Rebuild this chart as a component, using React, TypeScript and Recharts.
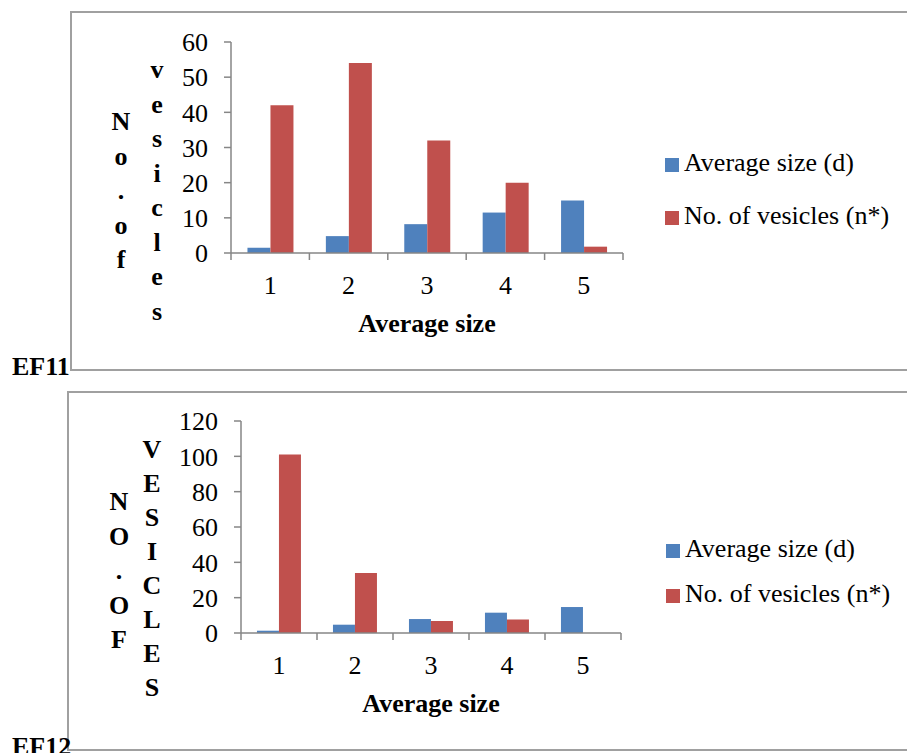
import React from "react";
import { BarChart, Bar, XAxis, YAxis, Legend } from "recharts";

// size classes on the x axis
const categories = ["1", "2", "3", "4", "5"];

// EF11
const ef11AvgSize = [1.5, 4.8, 8.2, 11.5, 14.9];
const ef11Vesicles = [42, 54, 32, 20, 1.8];
const ef11Ticks = [0, 10, 20, 30, 40, 50, 60];

// EF12
const ef12AvgSize = [1.3, 4.7, 7.9, 11.5, 14.7];
const ef12Vesicles = [101, 34, 6.8, 7.7, 0];
const ef12Ticks = [0, 20, 40, 60, 80, 100, 120];

const FONT = "'Liberation Serif', 'Times New Roman', serif";
const BLUE = "#4F81BD";
const RED = "#C0504D";
const AXIS = "#868686";
const FRAME = "#a0a0a0";
const FS = 26;

const buildRows = (avg: number[], ves: number[]) =>
  categories.map((c, i) => ({ size: c, avg: avg[i], ves: ves[i] }));

// category labels plus Excel-style tick marks sitting on the category edges
function EdgeTick(props: any) {
  const { x, y, payload, index, band, count } = props;
  const axisY = y - 7 - 4;
  return (
    <g>
      <line x1={x - band / 2} x2={x - band / 2} y1={axisY} y2={axisY + 7} stroke={AXIS} strokeWidth={1.5} />
      {index === count - 1 && (
        <line x1={x + band / 2} x2={x + band / 2} y1={axisY} y2={axisY + 7} stroke={AXIS} strokeWidth={1.5} />
      )}
      <text x={x} y={axisY + 41} textAnchor="middle" fontFamily={FONT} fontSize={FS} fill="#000">
        {payload.value}
      </text>
    </g>
  );
}

function SwatchLegend({ payload, gap }: any) {
  const items = (payload || []).filter((p: any) => p.type !== "none");
  return (
    <svg width={250} height={30 + gap * items.length} style={{ display: "block" }}>
      {items.map((p: any, i: number) => (
        <g key={p.value}>
          <rect x={5} y={13 + i * gap} width={14} height={14} fill={p.color} />
          <text x={24} y={26 + i * gap} fontFamily={FONT} fontSize={FS} fill="#000">
            {p.value}
          </text>
        </g>
      ))}
    </svg>
  );
}

type PanelProps = {
  top: number;
  height: number;
  rows: any[];
  ticks: number[];
  margin: { top: number; right: number; bottom: number; left: number };
  legendPos: { left: number; top: number };
  legendGap: number;
  yTickMargin: number;
};

function Panel({ top, height, rows, ticks, margin, legendPos, legendGap, yTickMargin }: PanelProps) {
  const width = 907;
  const band = (width - margin.left - 60 - margin.right) / categories.length;
  return (
    <div style={{ position: "absolute", left: 0, top, width, height }}>
      <BarChart
        width={width}
        height={height}
        data={rows}
        margin={margin}
        barGap={0}
        barCategoryGap="21%"
      >
        <XAxis
          dataKey="size"
          height={30}
          axisLine={{ stroke: AXIS, strokeWidth: 1.5 }}
          tickLine={false}
          tickSize={7}
          tickMargin={4}
          interval={0}
          tick={(p: any) => <EdgeTick {...p} band={band} count={categories.length} />}
          label={{
            content: ({ viewBox }: any) => (
              <text
                x={viewBox.x + viewBox.width / 2}
                y={viewBox.y + 79}
                textAnchor="middle"
                fontFamily={FONT}
                fontSize={FS}
                fontWeight="bold"
                fill="#000"
              >
                Average size
              </text>
            ),
          }}
        />
        <YAxis
          width={60}
          domain={[0, ticks[ticks.length - 1]]}
          ticks={ticks}
          interval={0}
          axisLine={{ stroke: AXIS, strokeWidth: 1.5 }}
          tickLine={{ stroke: AXIS, strokeWidth: 1.5 }}
          tickSize={7}
          tickMargin={yTickMargin}
          tick={{ fontFamily: FONT, fontSize: FS, fill: "#000" }}
        />
        <Legend
          layout="vertical"
          align="center"
          verticalAlign="middle"
          wrapperStyle={{ left: legendPos.left, top: legendPos.top, width: 250 }}
          content={(p: any) => <SwatchLegend payload={p.payload} gap={legendGap} />}
        />
        <Bar dataKey="avg" name="Average size (d)" fill={BLUE} isAnimationActive={false} />
        <Bar dataKey="ves" name="No. of vesicles (n*)" fill={RED} isAnimationActive={false} />
      </BarChart>
    </div>
  );
}

// stacked single letters used for the y axis titles
function Stack({ x, y, step, text }: { x: number; y: number; step: number; text: string }) {
  return (
    <text fontFamily={FONT} fontSize={FS} fontWeight="bold" fill="#000" textAnchor="middle">
      {text.split("").map((ch, i) => (
        <tspan key={i} x={x} y={y + i * step}>
          {ch}
        </tspan>
      ))}
    </text>
  );
}

export default function App() {
  return (
    <div
      style={{
        position: "absolute",
        left: 0,
        top: 0,
        width: 907,
        height: 753,
        overflow: "hidden",
        background: "#fff",
      }}
    >
      <svg width={907} height={753} style={{ position: "absolute", left: 0, top: 0 }}>
        <rect x={71} y={12} width={900} height={358} fill="none" stroke={FRAME} strokeWidth={2} />
        <rect x={68} y={392} width={900} height={358} fill="none" stroke={FRAME} strokeWidth={2} />
        <text x={12} y={375} fontFamily={FONT} fontSize={FS} fontWeight="bold" fill="#000">
          EF11
        </text>
        <text x={12} y={755} fontFamily={FONT} fontSize={FS} fontWeight="bold" fill="#000">
          EF12
        </text>
        <Stack x={121} y={130} step={34.5} text="No.of" />
        <Stack x={157} y={78} step={34.5} text="vesicles" />
        <Stack x={119} y={510} step={34.5} text="NO.OF" />
        <Stack x={152} y={458} step={34} text="VESICLES" />
      </svg>

      <Panel
        top={0}
        height={380}
        rows={buildRows(ef11AvgSize, ef11Vesicles)}
        ticks={ef11Ticks}
        margin={{ top: 42, right: 284, bottom: 97, left: 171 }}
        legendPos={{ left: 660, top: 145 }}
        legendGap={53}
        yTickMargin={16}
      />
      <Panel
        top={380}
        height={373}
        rows={buildRows(ef12AvgSize, ef12Vesicles)}
        ticks={ef12Ticks}
        margin={{ top: 41, right: 286, bottom: 90, left: 181 }}
        legendPos={{ left: 661, top: 151 }}
        legendGap={45}
        yTickMargin={16}
      />
    </div>
  );
}
